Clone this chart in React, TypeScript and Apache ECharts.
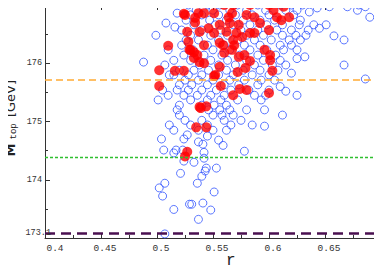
import React, { useEffect, useRef } from "react";
import * as echarts from "echarts";

const xTicks = { min: 0.4, max: 0.7, step: 0.05 };
const yTicks = { min: 173, max: 177, step: 1 };

const hLineOrange = 175.71;
const hLineGreen = 174.39;
const hLinePurple = 173.08;
const purpleLabel = "173.1";

const blueCircles: [number, number][] = [
  [0.528, 177.0], [0.545, 177.0], [0.556, 177.0], [0.572, 177.0], [0.59, 177.0], [0.61, 177.0], [0.62, 177.0], [0.63, 177.0], [0.68, 177.0],
  [0.535, 176.91], [0.55, 176.91], [0.565, 176.91], [0.58, 176.91], [0.597, 176.91], [0.615, 176.91], [0.625, 176.91], [0.643, 176.95], [0.654, 176.97], [0.67, 176.97], [0.679, 176.91], [0.686, 176.97],
  [0.518, 176.86], [0.53, 176.83], [0.54, 176.83], [0.555, 176.83], [0.57, 176.83], [0.585, 176.83], [0.6, 176.83], [0.622, 176.83], [0.636, 176.88],
  [0.526, 176.74], [0.547, 176.74], [0.562, 176.74], [0.577, 176.74], [0.592, 176.74], [0.605, 176.74], [0.628, 176.74], [0.69, 176.79],
  [0.508, 176.69], [0.516, 176.62], [0.533, 176.66], [0.552, 176.66], [0.568, 176.66], [0.583, 176.66], [0.598, 176.66], [0.612, 176.66], [0.627, 176.66], [0.64, 176.66], [0.651, 176.66],
  [0.522, 176.57], [0.54, 176.57], [0.557, 176.57], [0.575, 176.57], [0.59, 176.57], [0.607, 176.57], [0.62, 176.57], [0.635, 176.57], [0.645, 176.6],
  [0.499, 176.48], [0.53, 176.48], [0.548, 176.48], [0.563, 176.48], [0.58, 176.48], [0.595, 176.48], [0.612, 176.48], [0.624, 176.48], [0.633, 176.48], [0.658, 176.47],
  [0.526, 176.4], [0.537, 176.4], [0.555, 176.4], [0.572, 176.4], [0.587, 176.4], [0.602, 176.4], [0.618, 176.4], [0.628, 176.4], [0.667, 176.4],
  [0.522, 176.31], [0.545, 176.31], [0.56, 176.31], [0.578, 176.31], [0.592, 176.31], [0.61, 176.31], [0.62, 176.31],
  [0.51, 176.23], [0.532, 176.23], [0.55, 176.23], [0.565, 176.23], [0.583, 176.23], [0.598, 176.23], [0.613, 176.23], [0.625, 176.23],
  [0.524, 176.14], [0.542, 176.14], [0.558, 176.14], [0.574, 176.14], [0.59, 176.14], [0.606, 176.14], [0.632, 176.11],
  [0.488, 176.02], [0.515, 176.05], [0.53, 176.05], [0.548, 176.05], [0.563, 176.05], [0.58, 176.05], [0.595, 176.05], [0.61, 176.05], [0.625, 176.08],
  [0.507, 175.97], [0.538, 175.97], [0.555, 175.97], [0.57, 175.97], [0.587, 175.97], [0.603, 175.97], [0.615, 175.97], [0.667, 175.97],
  [0.52, 175.88], [0.533, 175.88], [0.546, 175.88], [0.562, 175.88], [0.577, 175.88], [0.592, 175.88], [0.608, 175.88],
  [0.511, 175.8], [0.515, 175.8], [0.528, 175.8], [0.54, 175.8], [0.555, 175.8], [0.568, 175.8], [0.585, 175.8], [0.6, 175.8], [0.62, 175.83],
  [0.525, 175.71], [0.537, 175.71], [0.55, 175.71], [0.565, 175.71], [0.578, 175.71], [0.593, 175.71], [0.605, 175.71], [0.686, 175.73],
  [0.52, 175.63], [0.531, 175.63], [0.545, 175.63], [0.56, 175.63], [0.573, 175.63], [0.59, 175.63], [0.61, 175.6],
  [0.505, 175.54], [0.518, 175.54], [0.528, 175.54], [0.54, 175.54], [0.553, 175.54], [0.566, 175.54], [0.582, 175.54], [0.6, 175.54], [0.615, 175.52],
  [0.51, 175.45], [0.524, 175.45], [0.536, 175.45], [0.548, 175.45], [0.56, 175.45], [0.587, 175.45], [0.597, 175.45], [0.625, 175.45],
  [0.501, 175.37], [0.53, 175.37], [0.545, 175.37], [0.557, 175.37], [0.572, 175.37], [0.593, 175.37],
  [0.52, 175.28], [0.54, 175.28], [0.551, 175.28], [0.562, 175.28],
  [0.518, 175.2], [0.546, 175.2], [0.556, 175.2], [0.565, 175.2], [0.58, 175.2], [0.596, 175.2],
  [0.52, 175.11], [0.55, 175.11], [0.558, 175.11], [0.568, 175.11], [0.612, 175.11],
  [0.525, 175.02], [0.54, 175.02], [0.56, 175.02], [0.575, 175.02],
  [0.511, 174.94], [0.53, 174.94], [0.545, 174.94], [0.566, 174.94], [0.585, 174.94], [0.596, 174.92],
  [0.515, 174.85], [0.537, 174.85], [0.55, 174.85], [0.562, 174.85],
  [0.527, 174.77], [0.545, 174.75],
  [0.504, 174.7], [0.524, 174.7], [0.537, 174.65], [0.541, 174.61], [0.555, 174.68], [0.559, 174.59],
  [0.506, 174.51], [0.515, 174.46], [0.517, 174.51], [0.523, 174.51], [0.542, 174.47], [0.578, 174.49],
  [0.524, 174.32], [0.533, 174.3], [0.542, 174.37],
  [0.521, 174.11], [0.544, 174.2], [0.543, 174.15], [0.553, 174.2], [0.54, 174.06],
  [0.502, 173.86], [0.507, 173.94], [0.505, 173.72], [0.536, 173.94], [0.551, 173.79],
  [0.515, 173.49], [0.529, 173.58], [0.531, 173.58], [0.541, 173.6], [0.548, 173.48], [0.537, 173.32],
  [0.507, 173.07],
];

const redDots: [number, number][] = [
  [0.502, 175.88], [0.502, 175.61], [0.51, 176.3], [0.516, 175.87], [0.524, 175.87],
  [0.524, 176.85], [0.527, 176.54], [0.528, 176.37], [0.529, 176.23],
  [0.535, 174.9], [0.544, 174.9], [0.538, 175.25], [0.544, 175.26],
  [0.557, 175.61], [0.551, 175.78], [0.556, 175.94],
  [0.568, 175.45], [0.574, 175.56], [0.58, 175.54], [0.6, 175.49],
  [0.603, 175.87], [0.601, 176.05], [0.601, 176.14], [0.596, 176.23],
  [0.578, 176.14], [0.583, 176.04], [0.579, 175.92], [0.572, 175.85], [0.573, 176.11],
  [0.538, 176.02], [0.542, 176.0], [0.542, 176.31], [0.533, 176.19],
  [0.556, 176.35], [0.559, 176.31], [0.568, 176.4], [0.576, 176.45], [0.571, 176.52],
  [0.583, 176.52], [0.587, 176.52], [0.6, 176.57], [0.562, 176.54], [0.538, 176.54],
  [0.546, 176.6], [0.556, 176.66], [0.565, 176.69], [0.573, 176.66], [0.592, 176.69],
  [0.58, 176.83], [0.587, 176.79], [0.607, 176.79], [0.611, 176.74], [0.618, 176.79],
  [0.604, 176.91], [0.613, 176.97], [0.6, 177.0], [0.583, 177.0], [0.568, 177.0], [0.56, 177.0],
  [0.567, 176.86], [0.564, 176.79], [0.551, 176.86], [0.542, 176.86], [0.534, 176.78],
  [0.567, 176.23], [0.56, 176.18], [0.551, 176.52], [0.569, 176.31],
  [0.525, 176.83], [0.537, 176.86], [0.534, 176.7], [0.536, 176.14], [0.53, 176.23],
  [0.533, 176.09], [0.552, 175.8], [0.539, 175.23],
  [0.527, 174.48], [0.525, 174.4],
];

const mono = "'Liberation Mono', 'DejaVu Sans Mono', monospace";

export default function App() {
  const ref = useRef<HTMLDivElement>(null);
  useEffect(() => {
    if (!ref.current) return;
    const chart = echarts.init(ref.current, undefined, { renderer: "svg" });
    const axisLine = { show: true, lineStyle: { color: "#333", width: 1 } };
    const tickMajor = { show: true, inside: true, length: 5, lineStyle: { color: "#333" } };
    const tickMinor = { show: true, length: 3, splitNumber: 2, lineStyle: { color: "#333" } };
    const fmtX = (v: number) => {
      const r = parseFloat(v.toFixed(2));
      if (r >= xTicks.max - 1e-9) return "";
      if (Math.abs(r - xTicks.min) < 1e-9) return "{first|" + r + "}";
      return "{n|" + r + "}";
    };
    // min label replaced by the purple line label; max label drawn as a text at the top
    const fmtY = (v: number) =>
      Math.abs(v - yTicks.min) < 1e-9 || Math.abs(v - yTicks.max) < 1e-9 ? "" : String(v);
    const tickLabelStyle = { fontFamily: mono, fontSize: 8.5, color: "#333" };
    chart.setOption({
      animation: false,
      grid: { left: 45, right: 1, top: 5, bottom: 32, outerBoundsMode: "none" },
      xAxis: [
        {
          type: "value", min: xTicks.min, max: xTicks.max, interval: xTicks.step,
          axisLine, axisTick: tickMajor, minorTick: tickMinor, splitLine: { show: false },
          axisLabel: {
            formatter: fmtX, fontFamily: mono, fontSize: 9.5, color: "#333", margin: 5,
            showMinLabel: true, showMaxLabel: true, hideOverlap: false,
            rich: {
              first: { fontFamily: mono, fontSize: 9.5, color: "#333", padding: [0, 0, 0, 20] },
              n: { fontFamily: mono, fontSize: 9.5, color: "#333", padding: [0, 0, 0, 8] },
            },
          },
        },
        {
          type: "value", position: "top", min: xTicks.min, max: xTicks.max, interval: xTicks.step,
          axisLine, axisTick: tickMajor, minorTick: tickMinor, splitLine: { show: false },
          axisLabel: { show: false },
        },
      ],
      yAxis: [
        {
          type: "value", min: yTicks.min, max: yTicks.max, interval: yTicks.step,
          axisLine, axisTick: tickMajor, minorTick: tickMinor, splitLine: { show: false },
          axisLabel: { formatter: fmtY, ...tickLabelStyle, margin: 3, hideOverlap: false },
        },
        {
          type: "value", position: "right", min: yTicks.min, max: yTicks.max, interval: yTicks.step,
          axisLine, axisTick: tickMajor, minorTick: tickMinor, splitLine: { show: false },
          axisLabel: { show: false },
        },
      ],
      graphic: [
        { type: "text", left: 226, top: 253, style: { text: "r", font: "16px 'Liberation Mono', monospace", fill: "#222" } },
        { type: "text", left: 29, top: 1, style: { text: String(yTicks.max), font: "8.5px 'Liberation Mono', monospace", fill: "#333" } },
        {
          type: "text", left: 4, top: 80, rotation: Math.PI / 2,
          style: {
            text: "{m|M}{sub|top} [GeV]",
            font: "13px 'DejaVu Sans', sans-serif", fill: "#222",
            rich: {
              m: { font: "bold 13px 'DejaVu Sans', sans-serif", fill: "#222" },
              sub: { font: "9px 'Liberation Mono', monospace", fill: "#222", verticalAlign: "bottom", padding: [6, 2, 0, 4] },
            },
          },
        },
      ],
      series: [
        {
          type: "scatter", data: blueCircles, symbol: "circle", symbolSize: 8,
          itemStyle: { color: "transparent", borderColor: "#3355ff", borderWidth: 1 },
          silent: true,
          markLine: {
            silent: true, symbol: ["none", "none"], animation: false,
            data: [
              { yAxis: hLineOrange, lineStyle: { color: "#ffaa33", width: 1.5, type: [7, 4] }, label: { show: false } },
              { yAxis: hLineGreen, lineStyle: { color: "#2fbf2f", width: 1.3, type: [3, 2] }, label: { show: false } },
              {
                yAxis: hLinePurple, lineStyle: { color: "#4a1050", width: 2.5, type: [10, 6] },
                label: { show: true, position: "start", formatter: purpleLabel, ...tickLabelStyle, distance: -6 },
              },
            ],
          },
        },
        {
          type: "scatter", data: redDots, symbol: "circle", symbolSize: 10,
          itemStyle: { color: "#ff0000", borderWidth: 0 }, silent: true,
        },
      ],
    });
    return () => chart.dispose();
  }, []);
  return <div ref={ref} style={{ width: 382, height: 270, marginLeft: -8, marginTop: -8, background: "#fff" }} />;
}
